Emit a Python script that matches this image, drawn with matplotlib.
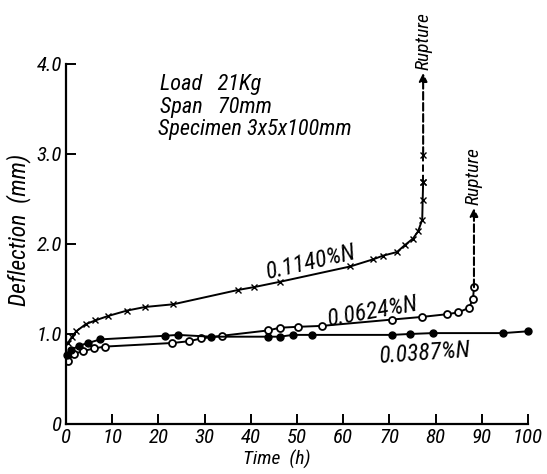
import matplotlib.pyplot as plt

# 0.1140 %N  (crosses)
t1 = [0.4, 1.3, 2.2, 4.3, 6.3, 9.1, 13.2, 17.1, 23.2, 37.3, 40.6, 46.3,
      61.5, 66.5, 68.6, 71.6, 73.4, 75.1, 76.2, 77.1, 77.2, 77.3]
d1 = [0.90, 0.97, 1.03, 1.11, 1.15, 1.20, 1.26, 1.30, 1.33, 1.49, 1.52, 1.58,
      1.75, 1.83, 1.87, 1.91, 1.99, 2.06, 2.14, 2.27, 2.49, 2.69]
t1_rup = [77.3, 77.3]
d1_rup = [2.69, 2.99]
d1_arrow = 3.90

# 0.0624 %N  (open circles)
t2 = [0.4, 1.7, 3.7, 6.1, 8.4, 23.0, 26.7, 29.2, 33.7, 43.8, 46.3, 50.3,
      55.4, 70.5, 77.1, 82.5, 84.9, 87.2, 88.1, 88.3]
d2 = [0.70, 0.78, 0.81, 0.84, 0.86, 0.90, 0.92, 0.95, 0.98, 1.04, 1.07, 1.08,
      1.09, 1.16, 1.19, 1.22, 1.24, 1.29, 1.39, 1.52]
d2_arrow = 2.40

# 0.0387 %N  (filled circles)
t3 = [0.3, 1.0, 2.8, 4.8, 7.4, 21.4, 24.2, 31.4, 43.7, 46.3, 49.1, 53.2,
      70.5, 74.4, 79.4, 94.6, 100.0]
d3 = [0.77, 0.82, 0.87, 0.90, 0.94, 0.98, 0.99, 0.97, 0.97, 0.97, 0.99, 0.99,
      0.99, 1.00, 1.01, 1.01, 1.03]

xticks = [0, 10, 20, 30, 40, 50, 60, 70, 80, 90, 100]
yticks = [0, 1.0, 2.0, 3.0, 4.0]
ylabels = ['0', '1.0', '2.0', '3.0', '4.0']

fams = ['Roboto Condensed', 'Archivo Narrow', 'PT Sans Narrow', 'DejaVu Sans']
fnt = dict(family=fams, style='italic')

fig = plt.figure(figsize=(5.47, 4.74), dpi=100)
ax = fig.add_axes([0.1207, 0.1055, 0.8446, 0.7595])

ax.plot(t1, d1, 'k-', lw=1.4, marker='x', ms=4, mew=1.0)
ax.plot(t1_rup, d1_rup, 'k--', lw=1.4, marker='x', ms=4, mew=1.0)
ax.annotate('', xy=(t1_rup[-1], d1_arrow), xytext=(t1_rup[-1], d1_rup[-1]),
            arrowprops=dict(arrowstyle='-|>', ls='--', lw=1.5, color='k',
                            mutation_scale=12, shrinkA=0, shrinkB=0))
ax.text(t1_rup[-1], d1_arrow + 0.03, 'Rupture', rotation=90, ha='left', va='center',
        rotation_mode='anchor', fontsize=14, **fnt)

ax.plot(t2, d2, 'k-', lw=1.4, marker='o', ms=5, mfc='white', mew=1.3)
ax.annotate('', xy=(t2[-1], d2_arrow), xytext=(t2[-1], d2[-1]),
            arrowprops=dict(arrowstyle='-|>', ls='--', lw=1.5, color='k',
                            mutation_scale=12, shrinkA=0, shrinkB=0))
ax.text(t2[-1], d2_arrow + 0.03, 'Rupture', rotation=90, ha='left', va='center',
        rotation_mode='anchor', fontsize=14, **fnt)

ax.plot(t3, d3, 'k-', lw=1.4, marker='o', ms=5, mfc='k', clip_on=False)

ax.text(53, 1.80, '0.1140%N', rotation=13, ha='center', va='center', fontsize=17, **fnt)
ax.text(66.5, 1.25, '0.0624%N', rotation=10, ha='center', va='center', fontsize=17, **fnt)
ax.text(77.7, 0.78, '0.0387%N', rotation=4, ha='center', va='center', fontsize=17, **fnt)

ax.text(20.3, 3.71, 'Load   21Kg', fontsize=16, **fnt)
ax.text(20.3, 3.46, 'Span   70mm', fontsize=16, **fnt)
ax.text(20.0, 3.21, 'Specimen 3x5x100mm', fontsize=16, **fnt)

ax.set_xlim(0, 100)
ax.set_ylim(0, 4.0)
ax.set_xticks(xticks)
ax.set_yticks(yticks)
ax.set_yticklabels(ylabels)
ax.spines['top'].set_visible(False)
ax.spines['right'].set_visible(False)
ax.spines['left'].set_linewidth(1.6)
ax.spines['bottom'].set_linewidth(1.6)
ax.tick_params(direction='in', length=7, width=1.4, pad=3)
for lab in ax.get_xticklabels() + ax.get_yticklabels():
    lab.set_fontsize(15)
    lab.set_family(fams)
    lab.set_style('italic')

ax.set_xlabel('Time  (h)', fontsize=14, **fnt)
ax.set_ylabel('Deflection  (mm)', fontsize=17, **fnt)
ax.xaxis.set_label_coords(0.457, -0.072)
ax.yaxis.set_label_coords(-0.075, 0.54)

fig.savefig('out.png', dpi=100)
